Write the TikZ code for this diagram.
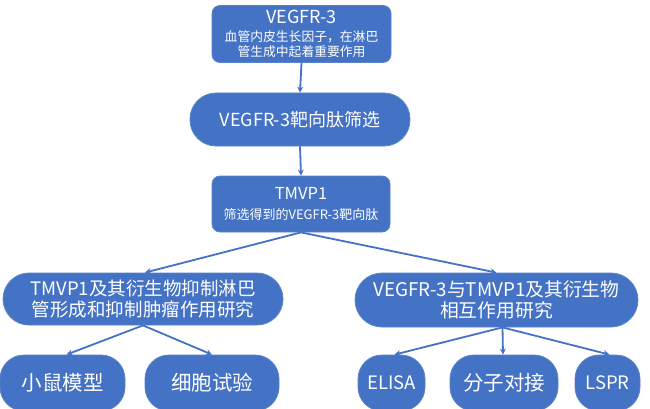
\documentclass[tikz,border=0pt]{standalone}
\usepackage{fontspec}
\setmainfont{Noto Sans CJK SC}
\usetikzlibrary{arrows.meta}
\definecolor{boxblue}{HTML}{4472C4}
\definecolor{edgeblue}{HTML}{5A84CC}
\tikzset{
  rbox/.style={draw=edgeblue, line width=0.8pt, fill=boxblue, text=white, rounded corners=8pt, align=center, inner sep=0pt},
  pill/.style={draw=edgeblue, line width=0.8pt, fill=boxblue, text=white, align=center, inner sep=0pt},
  conn/.style={draw=boxblue, line width=1.8pt, -{Stealth[length=6pt,width=6pt]}}
}
\begin{document}
\begin{tikzpicture}[x=1pt,y=-1pt]
\useasboundingbox[fill=white] (0,0) rectangle (650,409);
\clip (0,0) rectangle (650,409);
\node[rbox, minimum width=179pt, minimum height=57pt, font=\fontsize{12.8pt}{15pt}\selectfont] (a) at (301.5,34)
  {{\fontsize{18pt}{19pt}\selectfont VEGFR-3}\\[3pt]血管内皮生长因子，在淋巴\\管生成中起着重要作用};
\node[pill, rounded corners=26pt, minimum width=220pt, minimum height=53pt, font=\fontsize{18pt}{20pt}\selectfont] (b) at (300,119.5)
  {VEGFR-3靶向肽筛选};
\node[rbox, minimum width=178pt, minimum height=56pt, font=\fontsize{13pt}{15pt}\selectfont] (c) at (301,204)
  {{\fontsize{16.5pt}{18pt}\selectfont TMVP1}\\[5pt]筛选得到的VEGFR-3靶向肽};
\node[pill, rounded corners=26pt, minimum width=280pt, minimum height=52pt, font=\fontsize{18.5pt}{21.5pt}\selectfont] (l) at (143,299)
  {TMVP1及其衍生物抑制淋巴\\管形成和抑制肿瘤作用研究};
\node[pill, rounded corners=27pt, minimum width=283pt, minimum height=54pt, font=\fontsize{18.8pt}{21.5pt}\selectfont] (r) at (496.5,300)
  {VEGFR-3与TMVP1及其衍生物\\相互作用研究};
\node[pill, rounded corners=24pt, minimum width=125pt, minimum height=56pt, font=\fontsize{20.5pt}{22pt}\selectfont] (l1) at (62.5,383)
  {小鼠模型};
\node[pill, rounded corners=24pt, minimum width=134pt, minimum height=56pt, font=\fontsize{20.5pt}{22pt}\selectfont] (l2) at (212,383)
  {细胞试验};
\node[pill, rounded corners=24pt, minimum width=67pt, minimum height=56pt, font=\fontsize{18.5pt}{20pt}\selectfont] (r1) at (391.5,383)
  {ELISA};
\node[pill, rounded corners=24pt, minimum width=108pt, minimum height=56pt, font=\fontsize{20.5pt}{22pt}\selectfont] (r2) at (504,383)
  {分子对接};
\node[pill, rounded corners=24pt, minimum width=65pt, minimum height=56pt, font=\fontsize{18.5pt}{20pt}\selectfont] (r3) at (607.5,383)
  {LSPR};
\draw[conn] (a.south) -- (b.north);
\draw[conn] (b.south) -- (c.north);
\draw[conn] (c.south) -- ([xshift=2pt]l.north);
\draw[conn] (c.south) -- (r.north);
\draw[conn] (l.south) -- ([xshift=4pt]l1.north);
\draw[conn] (l.south) -- (l2.north);
\draw[conn] ([xshift=6pt]r.south) -- ([xshift=3pt]r1.north);
\draw[conn] ([xshift=6pt]r.south) -- ([xshift=-1pt]r2.north);
\draw[conn] ([xshift=6pt]r.south) -- ([xshift=2pt]r3.north);
\end{tikzpicture}
\end{document}
